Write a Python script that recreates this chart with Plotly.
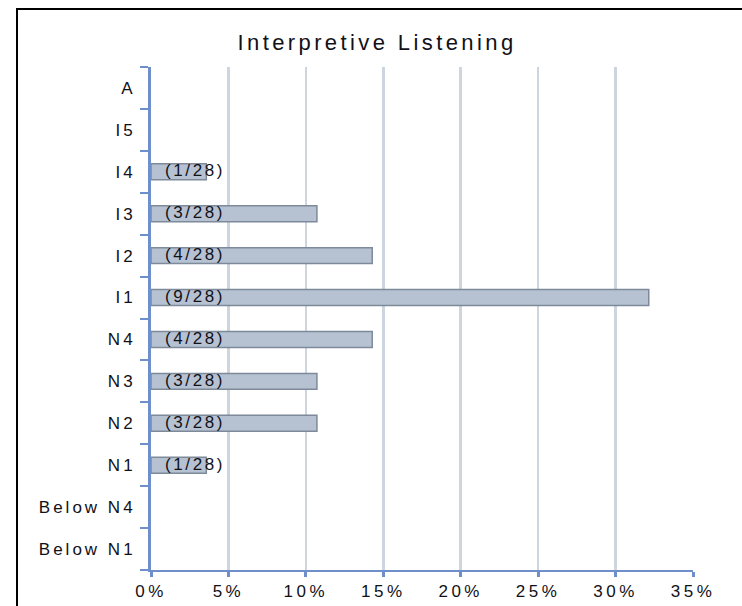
import plotly.graph_objects as go

categories = ["A", "I5", "I4", "I3", "I2", "I1", "N4", "N3", "N2", "N1", "Below N4", "Below N1"]
counts = [0, 0, 1, 3, 4, 9, 4, 3, 3, 1, 0, 0]
total = 28
x_ticks = [0, 5, 10, 15, 20, 25, 30, 35]
x_tick_labels = ["0%", "5%", "10%", "15%", "20%", "25%", "30%", "35%"]

pct = [c / total * 100 if c > 0 else None for c in counts]

FONT = "Liberation Sans, Arial"
TXT = "#111118"


def wide(s, sp):
    return f'<span style="letter-spacing:{sp}px">{s}</span>'


W, H = 742, 606
L, R, T, B = 151, 49, 67, 36
pw, ph = W - L - R, H - T - B

fig = go.Figure()
fig.add_trace(go.Bar(
    y=categories, x=pct, orientation="h", width=0.38,
    marker=dict(color="#B6C2D2", line=dict(color="#7E8A9A", width=1.5)),
    hoverinfo="skip",
))

for cat, c in zip(categories, counts):
    if c > 0:
        fig.add_annotation(x=0, y=cat, xref="x", yref="y", text=wide(f"({c}/{total})", 2.6),
                           showarrow=False, xanchor="left", yanchor="middle", xshift=12, yshift=1,
                           font=dict(family=FONT, size=17, color=TXT))


def px_x(p):
    return (p - L) / pw


def px_y(p):
    return (H - B - p) / ph


fig.add_shape(type="rect", xref="paper", yref="paper",
              x0=px_x(17), x1=px_x(760), y0=px_y(620), y1=px_y(9),
              line=dict(color="black", width=2), fillcolor="rgba(0,0,0,0)", layer="above")

fig.update_layout(
    width=W, height=H,
    margin=dict(l=L, r=R, t=T, b=B, pad=0, autoexpand=False),
    paper_bgcolor="white", plot_bgcolor="white",
    showlegend=False,
    title=dict(text=wide("Interpretive Listening", 3.4), x=(377 - L) / pw, xref="paper", xanchor="center",
               y=1 - 42 / H, yanchor="middle", yref="container",
               font=dict(family=FONT, size=22, color=TXT)),
    font=dict(family=FONT, size=17, color=TXT),
)
fig.update_xaxes(range=[0, 35], tickvals=x_ticks, ticktext=[wide(t, 3.5) for t in x_tick_labels],
                 showgrid=True, gridcolor="#CDD5DF", gridwidth=2.5,
                 showline=True, linecolor="#6F8FCB", linewidth=2,
                 ticks="outside", ticklen=5, tickcolor="#6F8FCB", tickwidth=3,
                 ticklabelstandoff=0, automargin=False,
                 zeroline=False, fixedrange=True, tickfont=dict(size=17, color=TXT))
fig.update_yaxes(type="category", categoryorder="array", categoryarray=categories,
                 tickvals=categories, ticktext=[wide(c, 3) for c in categories],
                 autorange="reversed", tickson="boundaries",
                 showgrid=False, showline=True, linecolor="#6F8FCB", linewidth=3,
                 ticks="outside", ticklen=8, tickcolor="#6F8FCB", tickwidth=2,
                 ticklabelstandoff=9, automargin=False, fixedrange=True,
                 tickfont=dict(size=17, color=TXT))

fig.write_html("out.html", post_script="document.body.style.margin='0px';",
               config={"displayModeBar": False, "staticPlot": True})
